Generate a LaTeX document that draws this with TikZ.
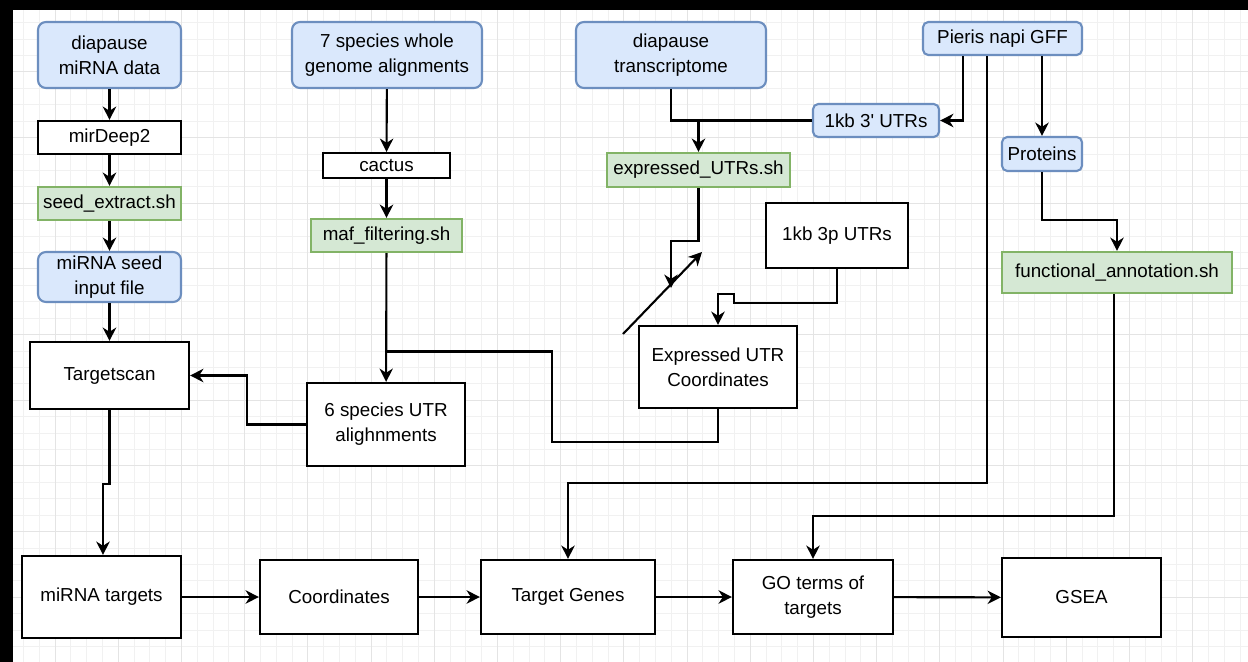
\documentclass[tikz,border=0pt]{standalone}
\usepackage{fontspec}
\setmainfont{Liberation Sans}[Ligatures=TeXOff]
\usetikzlibrary{arrows.meta, positioning}

\definecolor{bluefill}{HTML}{DAE8FC}
\definecolor{blueline}{HTML}{6C8EBF}
\definecolor{greenfill}{HTML}{D5E8D4}
\definecolor{greenline}{HTML}{82B366}
\definecolor{gridfine}{HTML}{F1F1F1}
\definecolor{gridmajor}{HTML}{E4E4E4}

\newlength{\px}
\setlength{\px}{0.02cm}

\tikzset{
    plainbox/.style={draw=black, line width=1.2pt, fill=white, align=center, inner sep=0pt,
                     font=\fontsize{10.7}{14.2}\selectfont},
    databox/.style={plainbox, draw=blueline, fill=bluefill, rounded corners=4.5pt},
    scriptbox/.style={plainbox, draw=greenline, fill=greenfill},
    link/.style={line width=1.2pt},
    arr/.style={line width=1.2pt, -{Stealth[length=7.6pt, width=7.6pt, inset=2.4pt]}},
}

\begin{document}
\begin{tikzpicture}[x=0.02cm, y=-0.02cm]
    \useasboundingbox (0,0) rectangle (1248,662);
    \fill[white] (0,0) rectangle (1248,662); % Canvas

    % grid
    \foreach \k in {0,...,77} \draw[gridfine, line width=0.4pt] ({23.3+\k*15.8},10) -- ++(0,652);
    \foreach \k in {0,...,38} \draw[gridfine, line width=0.4pt] (13,{22.5+\k*16.42}) -- ++(1235,0);
    \foreach \k in {2,6,...,74} \draw[gridmajor, line width=0.4pt] ({23.3+\k*15.8},10) -- ++(0,652);
    \foreach \k in {3,7,...,35} \draw[gridmajor, line width=0.4pt] (13,{22.5+\k*16.42}) -- ++(1235,0);

    \fill[black] (0,0) rectangle (1248,10); % Top band
    \fill[black] (0,0) rectangle (13,662); % Left band

    % miRNA column
    \node[databox, minimum width=143\px, minimum height=66\px] (mirnadata) at (109.5,55) {diapause\\miRNA data};
    \node[plainbox, minimum width=143\px, minimum height=33\px] (mirdeep) at (109.5,137.5) {mirDeep2};
    \node[scriptbox, minimum width=143\px, minimum height=33\px] (seedextract) at (109.5,203.5) {seed\_extract.sh};
    \node[databox, minimum width=143\px, minimum height=50\px] (seedinput) at (109.5,277) {miRNA seed\\input file};
    \node[plainbox, minimum width=159\px, minimum height=67\px] (targetscan) at (109.5,375.5) {Targetscan};

    % alignment column
    \node[databox, minimum width=190\px, minimum height=66\px] (wholegenome) at (387,55) {7 species whole\\genome alignments};
    \node[plainbox, minimum width=127\px, minimum height=25\px] (cactus) at (386.5,165.5) {cactus};
    \node[scriptbox, minimum width=151\px, minimum height=33\px] (maffilter) at (386.5,235.5) {maf\_filtering.sh};
    \node[plainbox, minimum width=158\px, minimum height=83\px] (utralign) at (386,424.5) {6 species UTR\\alighnments};

    % UTR column
    \node[databox, minimum width=190\px, minimum height=66\px] (transcriptome) at (671,55) {diapause\\transcriptome};
    \node[databox, rounded corners=3pt, minimum width=126\px, minimum height=33\px] (utrprime) at (876,120.5) {1kb 3' UTRs};
    \node[scriptbox, minimum width=183\px, minimum height=34\px] (exputrs) at (698.5,170) {expressed\_UTRs.sh};
    \node[plainbox, minimum width=142\px, minimum height=65\px] (utrthreep) at (837,235.5) {1kb 3p UTRs};
    \node[plainbox, minimum width=158\px, minimum height=82\px] (utrcoords) at (718,367) {Expressed UTR\\Coordinates};

    % annotation column
    \node[databox, rounded corners=3pt, minimum width=159\px, minimum height=33\px] (gff) at (1002.5,38.5) {Pieris napi GFF};
    \node[databox, rounded corners=3pt, minimum width=80\px, minimum height=34\px] (proteins) at (1042,154) {Proteins};
    \node[scriptbox, minimum width=230\px, minimum height=41\px] (funcannot) at (1117,272.5) {functional\_annotation.sh};

    % bottom row
    \node[plainbox, minimum width=159\px, minimum height=82\px] (mirnatargets) at (101.5,597) {miRNA targets};
    \node[plainbox, minimum width=158\px, minimum height=74\px] (coords) at (339,597) {Coordinates};
    \node[plainbox, minimum width=174\px, minimum height=74\px] (targetgenes) at (568,597) {Target Genes};
    \node[plainbox, minimum width=160\px, minimum height=74\px] (goterms) at (813,597) {GO terms of\\targets};
    \node[plainbox, minimum width=159\px, minimum height=79\px] (gsea) at (1081.5,597.5) {GSEA};

    % loose ends
    \coordinate (exputrsend) at (671,288);
    \coordinate (slashstart) at (623,334);
    \coordinate (slashend) at (702,252);
    \coordinate (mafjoin) at (386.5,351.5);

    % edges
    \draw[arr] (mirnadata) -- (mirdeep);
    \draw[arr] (mirdeep) -- (seedextract);
    \draw[arr] (seedextract) -- (seedinput);
    \draw[arr] (seedinput) -- (targetscan);
    \draw[arr] (targetscan.south) -- ++(0,74) -| ([xshift=1.5\px]mirnatargets.north);

    \draw[arr] (wholegenome) -- (cactus);
    \draw[arr] (cactus) -- (maffilter);
    \draw[arr] (maffilter) -- (utralign);
    \draw[arr] (utralign.west) -- ++(-59,0) |- (targetscan.east);

    \draw[link] (transcriptome.south) |- (utrprime.west);
    \draw[arr] (exputrs.north |- utrprime.west) -- (exputrs.north);
    \draw[arr] (exputrs.south) -- ++(0,53) -| (exputrsend);
    \draw[arr] (slashstart) -- (slashend);
    \draw[arr] (utrthreep.south) -- ++(0,34) -- ++(-103,0) -- ++(0,-9) -| (utrcoords.north);
    \draw[link] (utrcoords.south) -- ++(0,33) -| (552,351.5) -- (mafjoin);

    \draw[arr] ([xshift=-39.5\px]gff.south) |- (utrprime.east);
    \draw[arr] (proteins.north |- gff.south) -- (proteins.north);
    \draw[arr] ([xshift=-15.5\px]gff.south) -- ++(0,427) -| (targetgenes.north);
    \draw[arr] (proteins.south) -- ++(0,48) -| (funcannot.north);
    \draw[arr] ([xshift=-3\px]funcannot.south) -- ++(0,222) -| (goterms.north);

    \draw[arr] (mirnatargets) -- (coords);
    \draw[arr] (coords) -- (targetgenes);
    \draw[arr] (targetgenes) -- (goterms);
    \draw[arr] (goterms) -- (gsea);
\end{tikzpicture}
\end{document}
